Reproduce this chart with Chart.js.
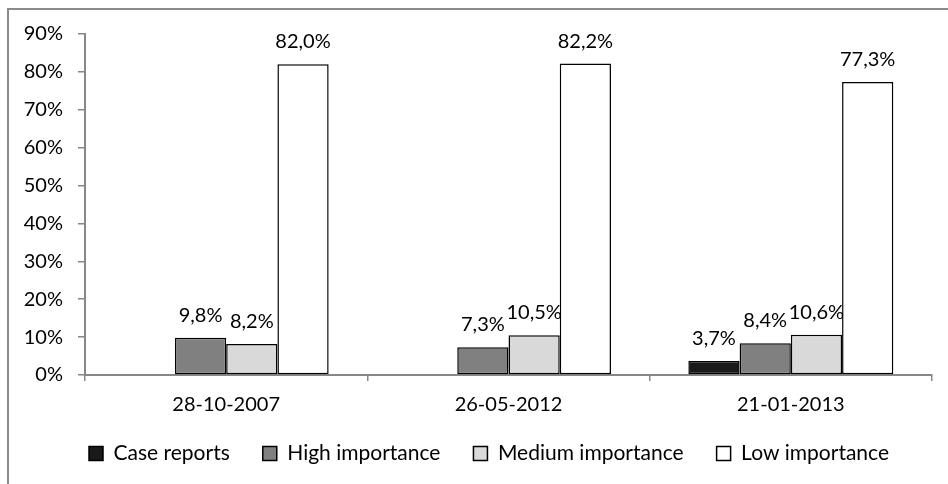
<!DOCTYPE html>
<html>
<head>
<meta charset="utf-8">
<script src="https://cdn.jsdelivr.net/npm/chart.js@4"></script>
<style>
  html, body { margin: 0; padding: 0; background: #fff; }
  #wrap { position: relative; width: 948px; height: 484px; }
</style>
</head>
<body>
<div id="wrap"><canvas id="chart" width="948" height="484"></canvas></div>
<script>
// Survey dates (categories)
const categories = ['28-10-2007', '26-05-2012', '21-01-2013'];

// Share of items per importance class, in percent
const caseReports = [null, null, 3.7];
const highImportance = [9.8, 7.3, 8.4];
const mediumImportance = [8.2, 10.5, 10.6];
const lowImportance = [82.0, 82.2, 77.3];

// Y axis range and step, in percent
const yTicks = { min: 0, max: 90, step: 10 };

const FONT = 'Lato, "Open Sans", sans-serif';
const AXIS_GREY = '#878787';

const fmtPct = v => v.toFixed(1).replace('.', ',') + '%';

// Outer frame line (left and top) around the chart
const framePlugin = {
  id: 'frame',
  beforeDraw(chart) {
    const ctx = chart.ctx;
    ctx.save();
    ctx.strokeStyle = '#8a8a8a';
    ctx.lineWidth = 2;
    ctx.beginPath();
    ctx.moveTo(8, chart.height);
    ctx.lineTo(8, 9);
    ctx.lineTo(chart.width, 9);
    ctx.stroke();
    ctx.restore();
  }
};

// Nudge the legend so it sits centred under the whole frame, closer to the axis
const legendShift = {
  id: 'legendShift',
  afterLayout(chart) {
    const lg = chart.legend;
    if (!lg) return;
    lg.left += 18;
    lg.right += 18;
    lg.top -= 10;
    lg.bottom -= 10;
  }
};

// Value labels above each bar
const valueLabels = {
  id: 'valueLabels',
  afterDatasetsDraw(chart) {
    const ctx = chart.ctx;
    ctx.save();
    ctx.font = '20px ' + FONT;
    ctx.fillStyle = '#000';
    ctx.textAlign = 'center';
    ctx.textBaseline = 'alphabetic';
    chart.data.datasets.forEach((ds, di) => {
      const meta = chart.getDatasetMeta(di);
      meta.data.forEach((el, i) => {
        const v = ds.data[i];
        if (v === null || v === undefined) return;
        ctx.fillText(fmtPct(v), el.x, el.y - 16);
      });
    });
    ctx.restore();
  }
};

const barCommon = {
  borderColor: '#000',
  borderWidth: 1.5,
  borderSkipped: false,
  categoryPercentage: 0.726,
  barPercentage: 1.0
};

new Chart(document.getElementById('chart'), {
  type: 'bar',
  data: {
    labels: categories,
    datasets: [
      Object.assign({ label: 'Case reports', data: caseReports, backgroundColor: '#1a1a1a' }, barCommon),
      Object.assign({ label: 'High importance', data: highImportance, backgroundColor: '#808080' }, barCommon),
      Object.assign({ label: 'Medium importance', data: mediumImportance, backgroundColor: '#d9d9d9' }, barCommon),
      Object.assign({ label: 'Low importance', data: lowImportance, backgroundColor: '#ffffff' }, barCommon)
    ]
  },
  options: {
    responsive: false,
    animation: false,
    layout: { padding: { top: 34, left: 10, right: 16, bottom: 0 } },
    plugins: {
      tooltip: { enabled: false },
      legend: {
        position: 'bottom',
        align: 'center',
        labels: {
          color: '#000',
          font: { family: FONT, size: 21 },
          boxWidth: 14,
          boxHeight: 14,
          padding: 33
        }
      }
    },
    scales: {
      x: {
        grid: {
          offset: true,
          drawOnChartArea: false,
          drawTicks: true,
          tickLength: 6,
          color: AXIS_GREY,
          lineWidth: 1.5
        },
        border: { display: true, color: AXIS_GREY, width: 2 },
        ticks: { color: '#000', font: { family: FONT, size: 20 }, padding: 12, maxRotation: 0 },
        afterFit(scale) { scale.height = 45; }
      },
      y: {
        min: yTicks.min,
        max: yTicks.max,
        grid: {
          drawOnChartArea: false,
          drawTicks: true,
          tickLength: 7,
          color: AXIS_GREY,
          lineWidth: 1.5
        },
        border: { display: true, color: AXIS_GREY, width: 2 },
        ticks: {
          stepSize: yTicks.step,
          color: '#000',
          font: { family: FONT, size: 20 },
          padding: 15,
          callback: v => v + '%'
        },
        afterFit(scale) { scale.width = 75; }
      }
    }
  },
  plugins: [framePlugin, legendShift, valueLabels]
});
</script>
</body>
</html>
